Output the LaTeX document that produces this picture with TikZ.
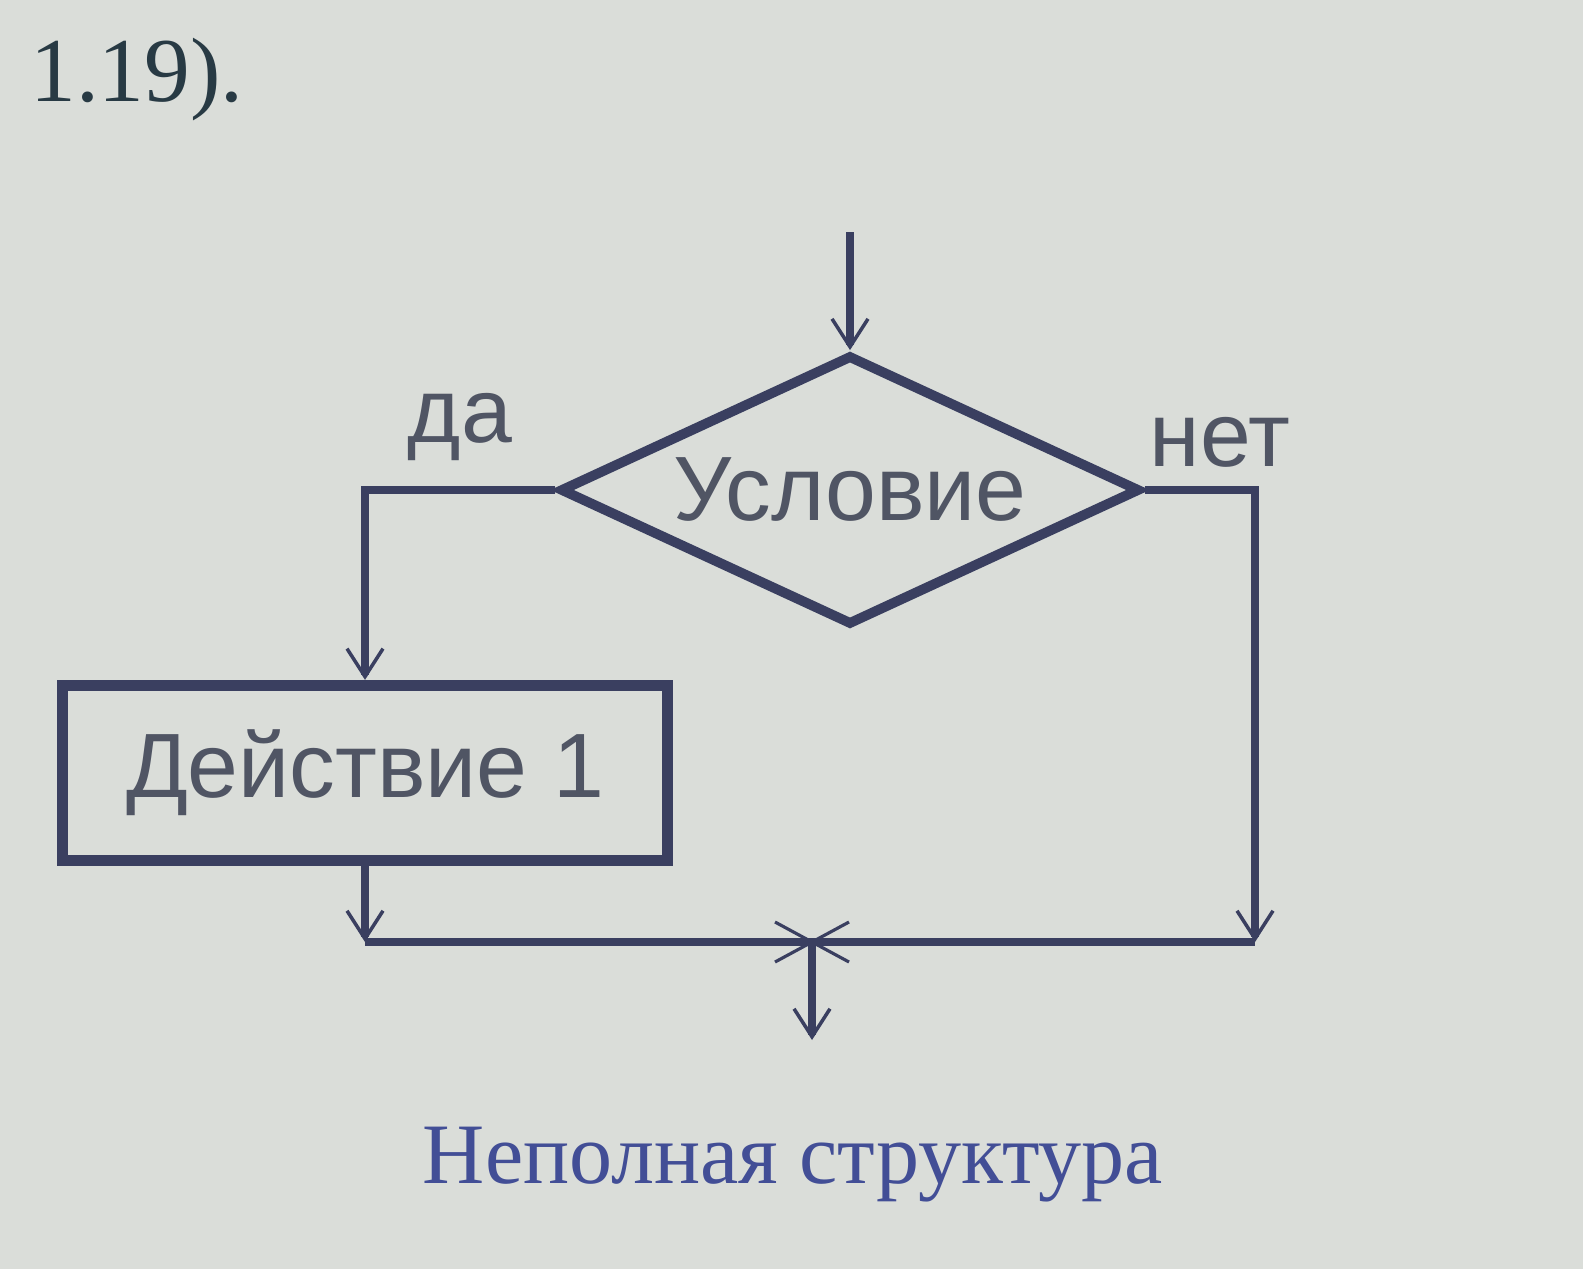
\documentclass[tikz,border=0pt]{standalone}
\usepackage{fontspec}
\setmainfont{Liberation Serif}
\newfontfamily\arial{Liberation Sans}
\usetikzlibrary{shapes.geometric,arrows.meta,calc}
\definecolor{bgc}{RGB}{218,221,217}
\definecolor{ink}{RGB}{58,63,96}
\definecolor{txt}{RGB}{80,85,100}
\definecolor{capc}{RGB}{66,78,150}
\definecolor{numc}{RGB}{40,58,68}
\begin{document}
\begin{tikzpicture}[line width=2.3pt, draw=ink,
		flow/.style={-{Straight Barb[length=2.8mm,width=3.6mm,line width=1pt]}},
		cond/.style={diamond,draw,line width=2.8pt,inner sep=0pt,
			minimum width=5.8cm,minimum height=2.7cm,aspect=2.15},
		act/.style={rectangle,draw,line width=3.2pt,
			minimum width=6.05cm,minimum height=1.75cm},
		lbl/.style={text=txt,font=\arial\fontsize{26}{30}\selectfont},
		cross/.style={line width=0.9pt} ]
	\fill[bgc] (0,0) rectangle (15.83,12.69);
	\useasboundingbox (0,0) rectangle (15.83,12.69);
	\node [text=numc,font=\fontsize{26}{30}\selectfont] (num) at (1.37,11.89) {1.19).};
	\coordinate (in) at (8.5,10.37);
	\node [cond,lbl] (c) at (8.5,7.79) {Условие};
	\node [act,lbl] (a) at (3.65,4.96) {Действие 1};
	\node [lbl] (yes) at (4.6,8.42) {да};
	\node [lbl] (no) at (12.2,8.27) {нет};
	\coordinate (j) at (8.12,3.27);
	\coordinate (r) at (12.55,3.27);
	\coordinate (l) at (a.south |- j);
	\coordinate (out) at (8.12,2.29);
	\node [text=capc,font=\fontsize{24.5}{28}\selectfont] (cap) at (7.93,1.04) {Неполная структура};
	\draw [flow] (in) -- (c.north);
	\draw [flow] (c.west) -| (a.north);
	\draw (c.east) -| (12.55,5.0);
	\draw [flow] (12.55,5.0) -- (r);
	\draw [flow] (a.south) -- (l);
	\draw (l) -- (r);
	\draw [flow] (j) -- (out);
	\draw [cross] ($(j)+(-0.37,0.2)$) -- ($(j)+(0.37,-0.2)$);
	\draw [cross] ($(j)+(-0.37,-0.2)$) -- ($(j)+(0.37,0.2)$);
\end{tikzpicture}
\end{document}
